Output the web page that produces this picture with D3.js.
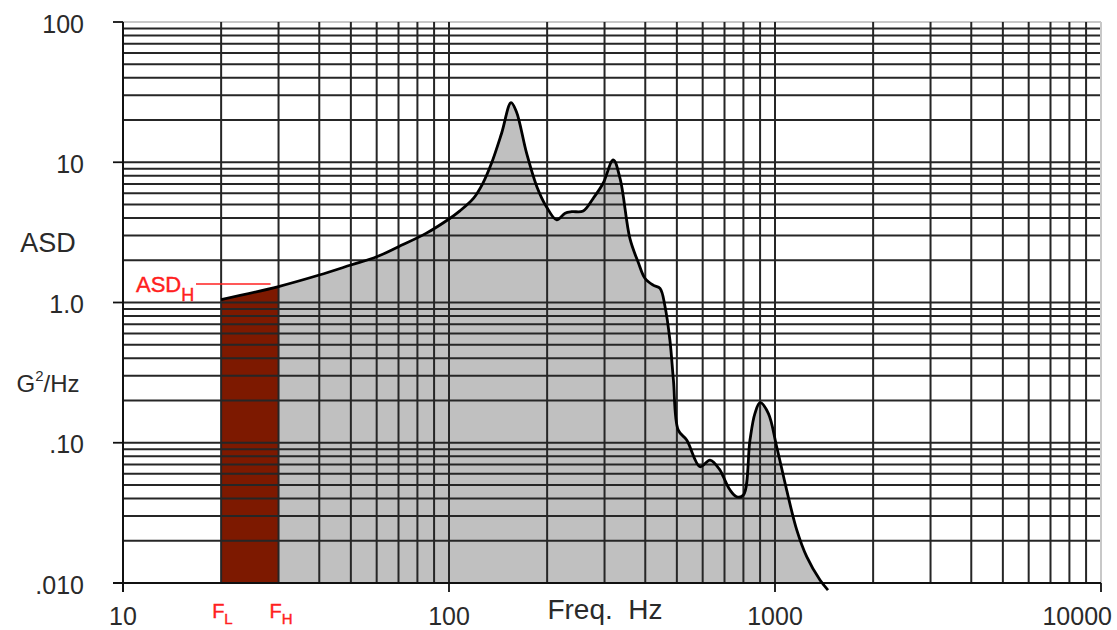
<!DOCTYPE html>
<html>
<head>
<meta charset="utf-8">
<script src="https://cdn.jsdelivr.net/npm/d3@7"></script>
<style>
  html, body { margin: 0; padding: 0; background: #fff; }
  svg { display: block; }
  text { font-family: "Liberation Sans", Arial, sans-serif; }
</style>
</head>
<body>
<svg id="chart" width="1117" height="630"></svg>
<script>
// ---- data ----
const freqs = [20,30,40,50,60,70,85,100,108,119,127,135,145,155,161,173,186,199,214,227,238,258,277,297,319,335,359,381,399,423,444,460,476,488,505,536,589,632,678,694,728,763,800,838,868,900,954,1012,1086,1166,1251,1374,1454];
const asd = [1.05,1.30,1.57,1.85,2.12,2.50,3.11,3.94,4.50,5.55,7.08,9.83,16.1,26.6,22.9,11.6,6.70,4.82,3.88,4.33,4.44,4.49,5.53,7.08,10.4,7.6,2.85,1.92,1.49,1.33,1.26,0.933,0.540,0.280,0.123,0.1046,0.0675,0.0753,0.0639,0.0573,0.046,0.0412,0.0424,0.1046,0.162,0.193,0.162,0.0937,0.046,0.0239,0.0154,0.0105,0.0089];
const bandLow = 20;   // F_L
const bandHigh = 30;  // F_H
const xTickValues = [10, 100, 1000, 10000];
const xTickLabels = ["10", "100", "1000", "10000"];
const yTickValues = [100, 10, 1, 0.1, 0.01];
const yTickLabels = ["100", "10", "1.0", ".10", ".010"];
const xTitle = "Freq.  Hz";

// ---- layout ----
const W = 1117, H = 630;
const L = 123, R = 1101, T = 22, B = 583;
const svg = d3.select("#chart");

const x = d3.scaleLog().domain([10, 10000]).range([L, R]);
const y = d3.scaleLog().domain([0.01, 100]).range([B, T]);

const data = freqs.map((f, i) => ({ f, v: asd[i] }));

const defs = svg.append("defs");
defs.append("clipPath").attr("id", "plotClip")
  .append("rect").attr("x", L).attr("y", T).attr("width", R - L).attr("height", B - T);
defs.append("clipPath").attr("id", "bandClip")
  .append("rect").attr("x", x(bandLow)).attr("y", T)
  .attr("width", x(bandHigh) - x(bandLow)).attr("height", B - T);

const curve = d3.curveCatmullRom.alpha(0.5);
const area = d3.area().x(d => x(d.f)).y0(B).y1(d => y(d.v)).curve(curve);
const line = d3.line().x(d => x(d.f)).y(d => y(d.v)).curve(curve);

// gray area
svg.append("path").datum(data).attr("d", area)
  .attr("fill", "#c0c0c0").attr("clip-path", "url(#plotClip)");
// dark red band
const bandG = svg.append("g").attr("clip-path", "url(#plotClip)");
bandG.append("path").datum(data).attr("d", area)
  .attr("fill", "#7d1900").attr("clip-path", "url(#bandClip)");

// grid
const gridColor = "#262626";
const xg = x.ticks();
const yg = y.ticks();
svg.append("g").selectAll("line").data(yg).join("line")
  .attr("x1", L).attr("x2", R)
  .attr("y1", d => y(d)).attr("y2", d => y(d))
  .attr("stroke", d => d === 100 ? "#c8c8c8" : gridColor)
  .attr("stroke-width", 2);
svg.append("g").selectAll("line").data(xg).join("line")
  .attr("y1", T).attr("y2", B)
  .attr("x1", d => x(d)).attr("x2", d => x(d))
  .attr("stroke", d => d === 10000 ? "#c8c8c8" : gridColor)
  .attr("stroke-width", 2);

// axes
svg.append("line").attr("x1", L).attr("x2", L).attr("y1", T).attr("y2", B + 9)
  .attr("stroke", "#111").attr("stroke-width", 2);
svg.append("line").attr("x1", L - 10).attr("x2", R).attr("y1", B).attr("y2", B)
  .attr("stroke", "#111").attr("stroke-width", 2);
svg.append("g").selectAll("line").data(yTickValues).join("line")
  .attr("x1", L - 10).attr("x2", L).attr("y1", d => y(d)).attr("y2", d => y(d))
  .attr("stroke", "#111").attr("stroke-width", 1.8);
svg.append("g").selectAll("line").data(xTickValues).join("line")
  .attr("x1", d => x(d)).attr("x2", d => x(d)).attr("y1", B).attr("y2", B + 9)
  .attr("stroke", "#111").attr("stroke-width", 1.8);

// curve
svg.append("path").datum(data).attr("d", line)
  .attr("fill", "none").attr("stroke", "#000").attr("stroke-width", 2.8)
  .attr("stroke-linejoin", "round");

// y tick labels
svg.append("g").selectAll("text").data(yTickValues).join("text")
  .attr("x", 84).attr("y", d => y(d) + 10.5)
  .attr("text-anchor", "end").attr("font-size", 25).attr("fill", "#2a2a2a")
  .text((d, i) => yTickLabels[i]);

// x tick labels
const xl = svg.append("g").selectAll("text").data(xTickValues).join("text")
  .attr("x", d => x(d)).attr("y", 625)
  .attr("text-anchor", "middle").attr("font-size", 25).attr("fill", "#2a2a2a")
  .text((d, i) => xTickLabels[i]);
xl.each(function () {
  const w = this.getComputedTextLength();
  const cx = +this.getAttribute("x");
  if (cx + w / 2 > W - 5) d3.select(this).attr("x", W - 5 - w / 2);
});

// axis titles
svg.append("text").attr("x", 605).attr("y", 619).attr("text-anchor", "middle")
  .attr("font-size", 28).attr("fill", "#2a2a2a").style("white-space", "pre").text(xTitle);
svg.append("text").attr("x", 48).attr("y", 252).attr("text-anchor", "middle")
  .attr("font-size", 27).attr("fill", "#2a2a2a").text("ASD");
const gt = svg.append("text").attr("x", 48).attr("y", 392).attr("text-anchor", "middle")
  .attr("font-size", 24).attr("fill", "#2a2a2a");
gt.append("tspan").text("G");
gt.append("tspan").attr("font-size", 15).attr("dy", -11).text("2");
gt.append("tspan").attr("dy", 11).text("/Hz");

// red annotations
const red = "#ff2020";
function subLabel(cx, baseY, main, sub, fs, sfs, dy) {
  const t = svg.append("text").attr("x", cx).attr("y", baseY)
    .attr("font-size", fs).attr("fill", red)
    .attr("stroke", red).attr("stroke-width", 0.4);
  t.append("tspan").text(main);
  t.append("tspan").attr("font-size", sfs).attr("dy", dy).text(sub);
  return t;
}
subLabel(x(bandLow) - 9, 618, "F", "L", 20, 15, 6);
subLabel(x(bandHigh) - 9, 618, "F", "H", 20, 15, 6);
subLabel(136, 292, "ASD", "H", 22, 18, 9);
svg.append("line").attr("x1", 196).attr("x2", x(bandHigh) - 8)
  .attr("y1", 284).attr("y2", 284).attr("stroke", red).attr("stroke-width", 1.5);
</script>
</body>
</html>
